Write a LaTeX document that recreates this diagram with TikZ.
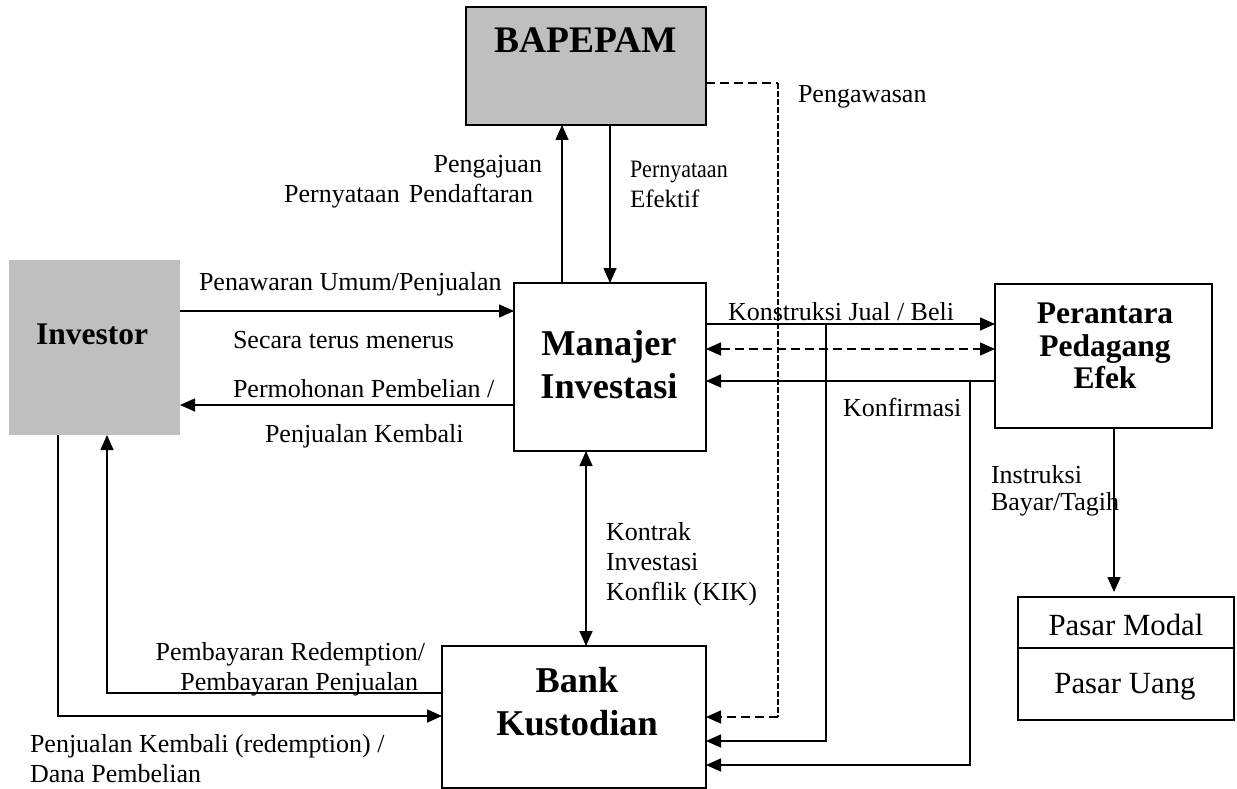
\documentclass[tikz,border=0pt]{standalone}
\usepackage{fontspec}
\setmainfont{Liberation Serif}
\usetikzlibrary{arrows.meta}
\definecolor{boxgray}{RGB}{191,191,191}
\tikzset{
  lbl/.style={font=\fontsize{26}{30}\selectfont, inner sep=0pt, outer sep=0pt},
  plainlbl/.style={font=\fontsize{25}{30}\selectfont, inner sep=0pt, outer sep=0pt},
  bigtitle/.style={font=\fontsize{37.5}{42}\selectfont\bfseries, inner sep=0pt, outer sep=0pt},
  midtitle/.style={font=\fontsize{36.3}{42}\selectfont\bfseries, inner sep=0pt, outer sep=0pt},
  smalltitle/.style={font=\fontsize{31.5}{36}\selectfont\bfseries, inner sep=0pt, outer sep=0pt},
  pasartxt/.style={font=\fontsize{30.8}{36}\selectfont, inner sep=0pt, outer sep=0pt},
  boxnode/.style={draw, line width=1.6pt, inner sep=0pt, outer sep=0pt},
  graynode/.style={fill=boxgray, inner sep=0pt, outer sep=0pt},
  conn/.style={line width=1.6pt},
  arr/.style={line width=1.6pt, -{Triangle[length=15pt,width=13pt]}},
  dblarr/.style={line width=1.6pt, {Triangle[length=15pt,width=13pt]}-{Triangle[length=15pt,width=13pt]}},
  dashthick/.style={line width=1.6pt, dash pattern=on 9pt off 5pt},
  dashthin/.style={line width=1.1pt, dash pattern=on 6pt off 2pt},
}
\begin{document}
\begin{tikzpicture}[x=1pt,y=-1pt]
\useasboundingbox (0,0) rectangle (1237,789);

% boxes
\node[graynode, draw, line width=1.6pt, minimum width=240pt, minimum height=118pt] (bap) at (586,66) {};
\node[graynode, minimum width=171pt, minimum height=175pt] (inv) at (94.5,347.5) {};
\node[boxnode, minimum width=192pt, minimum height=168pt] (mi) at (610,367) {};
\node[boxnode, minimum width=217pt, minimum height=144pt] (pe) at (1103.5,356) {};
\node[boxnode, minimum width=264pt, minimum height=142pt] (bank) at (574,717) {};
\node[boxnode, minimum width=216pt, minimum height=123pt] (pasar) at (1126,658.5) {};
\draw[conn] (pasar.west |- 0,648) -- (pasar.east |- 0,648);

% box texts
\node[bigtitle, anchor=base] (tbap) at (586,53) {BAPEPAM};
\node[smalltitle, anchor=base] (tinv) at (92,344) {Investor};
\node[midtitle, anchor=base] (tmi1) at (609,355) {Manajer};
\node[midtitle, anchor=base] (tmi2) at (609,398) {Investasi};
\node[smalltitle, anchor=base] (tpe1) at (1105,323) {Perantara};
\node[smalltitle, anchor=base] (tpe2) at (1105,356) {Pedagang};
\node[smalltitle, anchor=base] (tpe3) at (1105,388) {Efek};
\node[midtitle, anchor=base] (tbk1) at (577,692) {Bank};
\node[midtitle, anchor=base] (tbk2) at (577,735) {Kustodian};
\node[pasartxt, anchor=base] (tps1) at (1126,635) {Pasar Modal};
\node[pasartxt, anchor=base] (tps2) at (1125,693) {Pasar Uang};

% connectors BAPEPAM - Manajer
\draw[arr] (mi.north -| 562,0) -- (bap.south -| 562,0);
\draw[arr] (bap.south -| 610,0) -- (mi.north -| 610,0);

% supervision dashed line
\coordinate (d1) at (778,83);
\coordinate (d2) at (778,717);
\draw[dashthick] (bap.east |- d1) -- (d1);
\draw[dashthin] (d1) -- (d2);
\draw[dashthick, -{Triangle[length=15pt,width=13pt]}] (d2) -- (bank.east |- d2);

% Investor - Manajer
\draw[arr] (inv.east |- 0,311) -- (mi.west |- 0,311);
\draw[arr] (mi.west |- 0,405) -- (inv.east |- 0,405);

% Manajer - Perantara
\draw[arr] (mi.east |- 0,324) -- (pe.west |- 0,324);
\draw[dashthick, {Triangle[length=15pt,width=13pt]}-{Triangle[length=15pt,width=13pt]}] (mi.east |- 0,349) -- (pe.west |- 0,349);
\draw[arr] (pe.west |- 0,381) -- (mi.east |- 0,381);

% branches to Bank
\coordinate (j1) at (826,324);
\coordinate (j1b) at (826,741);
\draw[arr] (j1) -- (j1b) -- (bank.east |- j1b);
\coordinate (j2) at (970,381);
\coordinate (j2b) at (970,765);
\draw[arr] (j2) -- (j2b) -- (bank.east |- j2b);

% Perantara - Pasar
\draw[arr, shorten >=5pt] (pe.south -| 1114,0) -- (pasar.north -| 1114,0);

% Manajer - Bank
\draw[dblarr] (mi.south -| 586,0) -- (bank.north -| 586,0);

% Investor - Bank
\coordinate (l1) at (58,716);
\draw[arr] (inv.south -| l1) -- (l1) -- (bank.west |- l1);
\coordinate (l2) at (107,693);
\draw[arr] (bank.west |- l2) -- (l2) -- (inv.south -| l2);

% labels
\node[lbl, anchor=base west] (lpeng) at (798,103) {Pengawasan};
\node[lbl, anchor=base east] (lpj1) at (542,172) {Pengajuan};
\node[lbl, anchor=base east] (lpj2) at (533,202) {Pernyataan\hspace{0.1em} Pendaftaran};
\node[plainlbl, anchor=base west] (lef1) at (630,178) {\scalebox{0.88}[1]{Pernyataan}};
\node[plainlbl, anchor=base west] (lef2) at (630,207) {Efektif};
\node[lbl, anchor=base west] (lpw) at (199,290) {Penawaran Umum/Penjualan};
\node[lbl, anchor=base west] (lst) at (233,348) {Secara terus menerus};
\node[lbl, anchor=base west] (lpm) at (233,397) {Permohonan Pembelian /};
\node[lbl, anchor=base west] (lpk) at (265,442) {Penjualan Kembali};
\node[lbl, anchor=base west] (lkjb) at (728,320) {Konstruksi Jual / Beli};
\node[lbl, anchor=base west] (lkf) at (843,416) {Konfirmasi};
\node[lbl, anchor=base west] (lin1) at (991,483) {Instruksi};
\node[lbl, anchor=base west] (lin2) at (991,510) {Bayar/Tagih};
\node[lbl, anchor=base west] (lk1) at (606,540) {Kontrak};
\node[lbl, anchor=base west] (lk2) at (606,570) {Investasi};
\node[lbl, anchor=base west] (lk3) at (606,600) {Konflik (KIK)};
\node[lbl, anchor=base east] (lpr1) at (425,660) {Pembayaran Redemption/};
\node[lbl, anchor=base east] (lpr2) at (418,690) {Pembayaran Penjualan};
\node[lbl, anchor=base west] (lrd1) at (30,752) {Penjualan Kembali (redemption) /};
\node[lbl, anchor=base west] (lrd2) at (30,782) {Dana Pembelian};
\end{tikzpicture}
\end{document}
